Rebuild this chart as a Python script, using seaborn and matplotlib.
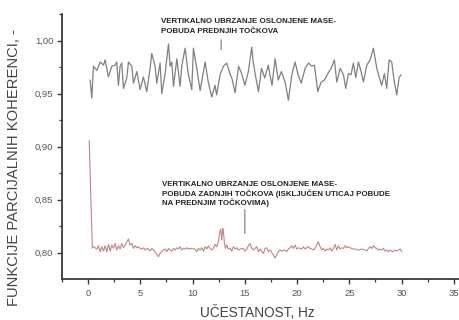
import matplotlib
matplotlib.use("Agg")
import matplotlib.pyplot as plt
import matplotlib.ticker as mticker
import seaborn as sns
import pandas as pd

# ---------------- data ----------------
gray_hz = [
    0.19, 0.35, 0.51, 0.83, 1.15, 1.47, 1.63, 1.94, 2.27, 2.58,
    2.74, 2.90, 3.06, 3.22, 3.38, 3.70, 3.86, 4.18, 4.34, 4.66,
    4.98, 5.29, 5.61, 5.93, 6.09, 6.41, 6.57, 6.89, 7.05, 7.37,
    7.69, 7.85, 8.01, 8.17, 8.49, 8.80, 8.96, 9.28, 9.60, 9.92,
    10.08, 10.40, 10.72, 11.20, 11.50, 11.83, 12.15, 12.30, 12.63, 12.95,
    13.27, 13.60, 13.75, 14.07, 14.40, 14.70, 15.00, 15.34, 15.66, 15.80,
    16.00, 16.30, 16.60, 16.90, 17.25, 17.40, 17.60, 17.90, 18.20, 18.50,
    18.85, 19.17, 19.50, 19.81, 20.10, 20.40, 20.77, 21.10, 21.40, 21.66,
    21.98, 22.30, 22.62, 22.94, 23.26, 23.57, 23.80, 24.12, 24.44, 24.66,
    24.91, 25.17, 25.39, 25.62, 25.87, 26.13, 26.35, 26.67, 26.99, 27.31,
    27.63, 27.85, 28.10, 28.36, 28.58, 28.81, 29.06, 29.31, 29.54, 29.76,
    29.95,
]
gray_coh = [
    0.963, 0.946, 0.976, 0.972, 0.980, 0.977, 0.982, 0.966, 0.976, 0.977,
    0.980, 0.958, 0.976, 0.979, 0.955, 0.965, 0.980, 0.976, 0.960, 0.971,
    0.954, 0.966, 0.952, 0.974, 0.988, 0.976, 0.960, 0.979, 0.950, 0.969,
    0.997, 0.976, 0.980, 0.957, 0.983, 0.957, 0.976, 0.993, 0.968, 0.954,
    0.993, 0.974, 0.953, 0.980, 0.961, 0.947, 0.958, 0.949, 0.968, 0.976,
    0.979, 0.968, 0.965, 0.951, 0.976, 0.969, 0.958, 0.971, 0.994, 0.980,
    0.968, 0.952, 0.974, 0.965, 0.977, 0.968, 0.958, 0.983, 0.963, 0.971,
    0.961, 0.944, 0.968, 0.980, 0.968, 0.960, 0.974, 0.979, 0.976, 0.977,
    0.952, 0.961, 0.963, 0.969, 0.974, 0.982, 0.961, 0.974, 0.968, 0.955,
    0.969, 0.968, 0.979, 0.965, 0.980, 0.971, 0.961, 0.977, 0.982, 0.993,
    0.974, 0.966, 0.958, 0.969, 0.955, 0.982, 0.980, 0.961, 0.949, 0.965,
    0.968,
]

red_hz = [
    0.10, 0.40, 0.51, 0.83, 0.99, 1.15, 1.31, 1.47, 1.63, 1.79,
    1.95, 2.11, 2.27, 2.42, 2.58, 2.74, 2.90, 3.06, 3.22, 3.38,
    3.54, 3.70, 3.86, 4.02, 4.18, 4.34, 4.50, 4.66, 4.82, 4.98,
    5.14, 5.30, 5.46, 5.62, 5.77, 5.93, 6.09, 6.25, 6.41, 6.57,
    6.73, 6.89, 7.05, 7.21, 7.37, 7.53, 7.69, 7.85, 8.01, 8.17,
    8.33, 8.49, 8.65, 8.80, 8.96, 9.12, 9.28, 9.44, 9.60, 9.76,
    10.24, 10.40, 10.56, 10.72, 10.88, 11.04, 11.20, 11.36, 11.51, 11.67,
    11.83, 11.99, 12.15, 12.31, 12.47, 12.57, 12.69, 12.79, 12.89, 12.95,
    13.05, 13.14, 13.27, 13.43, 13.59, 13.75, 13.91, 14.07, 14.23, 14.39,
    14.55, 14.86, 15.02, 15.18, 15.34, 15.50, 15.66, 15.82, 15.98, 16.14,
    16.30, 16.46, 16.78, 16.94, 17.10, 17.26, 17.42, 17.74, 17.89, 18.21,
    18.37, 18.53, 18.85, 19.01, 19.17, 19.33, 19.49, 19.65, 19.81, 19.97,
    20.13, 20.29, 20.45, 20.61, 20.77, 20.93, 21.09, 21.25, 21.41, 21.56,
    21.72, 21.88, 22.04, 22.20, 22.36, 22.52, 22.68, 22.84, 23.00, 23.16,
    23.32, 23.48, 23.64, 23.80, 23.96, 24.12, 24.28, 24.44, 24.60, 24.75,
    24.91, 25.07, 25.23, 25.39, 25.55, 25.87, 26.19, 26.51, 26.67, 26.83,
    26.99, 27.15, 27.31, 27.47, 27.63, 27.79, 27.94, 28.10, 28.26, 28.42,
    28.58, 28.74, 28.90, 29.06, 29.22, 29.38, 29.54, 29.70, 29.86, 30.02,
]
red_coh = [
    0.906, 0.8045, 0.8057, 0.8035, 0.8066, 0.8010, 0.8057, 0.8016, 0.8066, 0.8010,
    0.8079, 0.8016, 0.8073, 0.8041, 0.8088, 0.8026, 0.8066, 0.8035, 0.8088, 0.8047,
    0.8073, 0.8104, 0.8129, 0.8073, 0.8088, 0.8041, 0.8066, 0.8047, 0.8057, 0.8041,
    0.8035, 0.8047, 0.8026, 0.8041, 0.8035, 0.8016, 0.8041, 0.8026, 0.8010, 0.7985,
    0.7963, 0.7994, 0.8010, 0.8026, 0.8035, 0.8010, 0.8041, 0.8026, 0.8016, 0.8041,
    0.8026, 0.8047, 0.8035, 0.8057, 0.8026, 0.8041, 0.8035, 0.8047, 0.8035, 0.8041,
    0.8035, 0.8010, 0.8041, 0.8026, 0.8047, 0.8016, 0.8057, 0.8035, 0.8066, 0.8041,
    0.8026, 0.8041, 0.8079, 0.8057, 0.8104, 0.8183, 0.8224, 0.8120, 0.8230, 0.8199,
    0.8088, 0.8041, 0.8073, 0.8035, 0.8041, 0.8016, 0.8057, 0.8035, 0.8047, 0.8026,
    0.8035, 0.8041, 0.8016, 0.8035, 0.8066, 0.8088, 0.8041, 0.8026, 0.8041, 0.8057,
    0.8010, 0.8035, 0.7994, 0.8041, 0.8047, 0.8010, 0.8026, 0.7978, 0.7950, 0.8010,
    0.8026, 0.8016, 0.8026, 0.8010, 0.8035, 0.8047, 0.8066, 0.8041, 0.8073, 0.8035,
    0.8047, 0.8041, 0.8035, 0.8057, 0.8035, 0.8047, 0.8057, 0.8041, 0.8035, 0.8026,
    0.8041, 0.8073, 0.8104, 0.8057, 0.8026, 0.8041, 0.8016, 0.8035, 0.8026, 0.8047,
    0.8016, 0.8041, 0.8079, 0.8026, 0.8066, 0.8035, 0.8047, 0.8041, 0.8066, 0.8047,
    0.8057, 0.8047, 0.8041, 0.8035, 0.8035, 0.8026, 0.8035, 0.8026, 0.8016, 0.8041,
    0.8057, 0.8041, 0.8066, 0.8047, 0.8041, 0.8026, 0.8035, 0.8026, 0.8041, 0.8016,
    0.8026, 0.8010, 0.8026, 0.8016, 0.8010, 0.8026, 0.8016, 0.8026, 0.8035, 0.8010,
]

x_ticks = [0, 5, 10, 15, 20, 25, 30, 35]
y_ticks = [0.80, 0.85, 0.90, 0.95, 1.00]

gray_note = ["VERTIKALNO UBRZANJE OSLONJENE MASE-", "POBUDA PREDNJIH TOČKOVA"]
red_note = ["VERTIKALNO UBRZANJE OSLONJENE MASE-",
            "POBUDA ZADNJIH TOČKOVA (ISKLJUČEN UTICAJ POBUDE",
            "NA PREDNJIM TOČKOVIMA)"]
x_label = "UČESTANOST, Hz"
y_label = "FUNKCIJE PARCIJALNIH KOHERENCI, -"

# ---------------- style ----------------
sns.set_theme(style="ticks")
plt.rcParams["font.family"] = ["Liberation Sans", "DejaVu Sans"]

fig = plt.figure(figsize=(4.59, 3.20), dpi=100)
ax = fig.add_axes([0.1351, 0.128, 0.8649, 0.828])

df_gray = pd.DataFrame({"hz": gray_hz, "coh": gray_coh})
df_red = pd.DataFrame({"hz": red_hz, "coh": red_coh})

sns.lineplot(data=df_gray, x="hz", y="coh", ax=ax, color="#808080",
             lw=0.9, estimator=None)
sns.lineplot(data=df_red, x="hz", y="coh", ax=ax, color="#c08585",
             lw=0.8, estimator=None)

ax.set_xlim(-2.5, 35.5)
ax.set_ylim(0.7752, 1.0252)
ax.set_xticks(x_ticks)
ax.set_yticks(y_ticks)
ax.xaxis.set_minor_locator(mticker.MultipleLocator(2.5))
ax.yaxis.set_minor_locator(mticker.MultipleLocator(0.025))
ax.yaxis.set_major_formatter(
    mticker.FuncFormatter(lambda v, p: f"{v:.2f}".replace(".", ",")))

for s in ["top", "right"]:
    ax.spines[s].set_visible(False)
for s in ["left", "bottom"]:
    ax.spines[s].set_color("#3a3a3a")
    ax.spines[s].set_linewidth(1.3)

ax.tick_params(axis="both", which="major", direction="out", length=3.3,
               width=1.0, color="#3a3a3a", labelsize=6.8, labelcolor="#555555")
ax.tick_params(axis="both", which="minor", direction="out", length=2.2,
               width=0.9, color="#3a3a3a")
ax.tick_params(axis="y", which="major", pad=3.0)
ax.tick_params(axis="x", which="major", pad=4.0)

ax.set_xlabel(x_label, fontsize=9.8, color="#444444", va="center")
ax.set_ylabel(y_label, fontsize=10.6, color="#444444")
ax.xaxis.set_label_coords(0.491, -0.125)
ax.yaxis.set_label_coords(-0.104, 0.42)

# annotations
for i, line in enumerate(gray_note):
    ax.text(7.0, 1.0179 - i * 0.0094, line, fontsize=5.7, fontweight="bold",
            color="#222222", va="center", ha="left")
for i, line in enumerate(red_note):
    ax.text(7.05, 0.8648 - i * 0.0088, line, fontsize=5.7, fontweight="bold",
            color="#222222", va="center", ha="left")

ax.annotate("", xy=(12.73, 0.989), xytext=(12.73, 1.0035),
            arrowprops=dict(arrowstyle="-", color="#777777", lw=0.8))
ax.annotate("", xy=(15.0, 0.8156), xytext=(15.0, 0.8434),
            arrowprops=dict(arrowstyle="-", color="#777777", lw=0.8))

fig.savefig("out.png", dpi=100)
